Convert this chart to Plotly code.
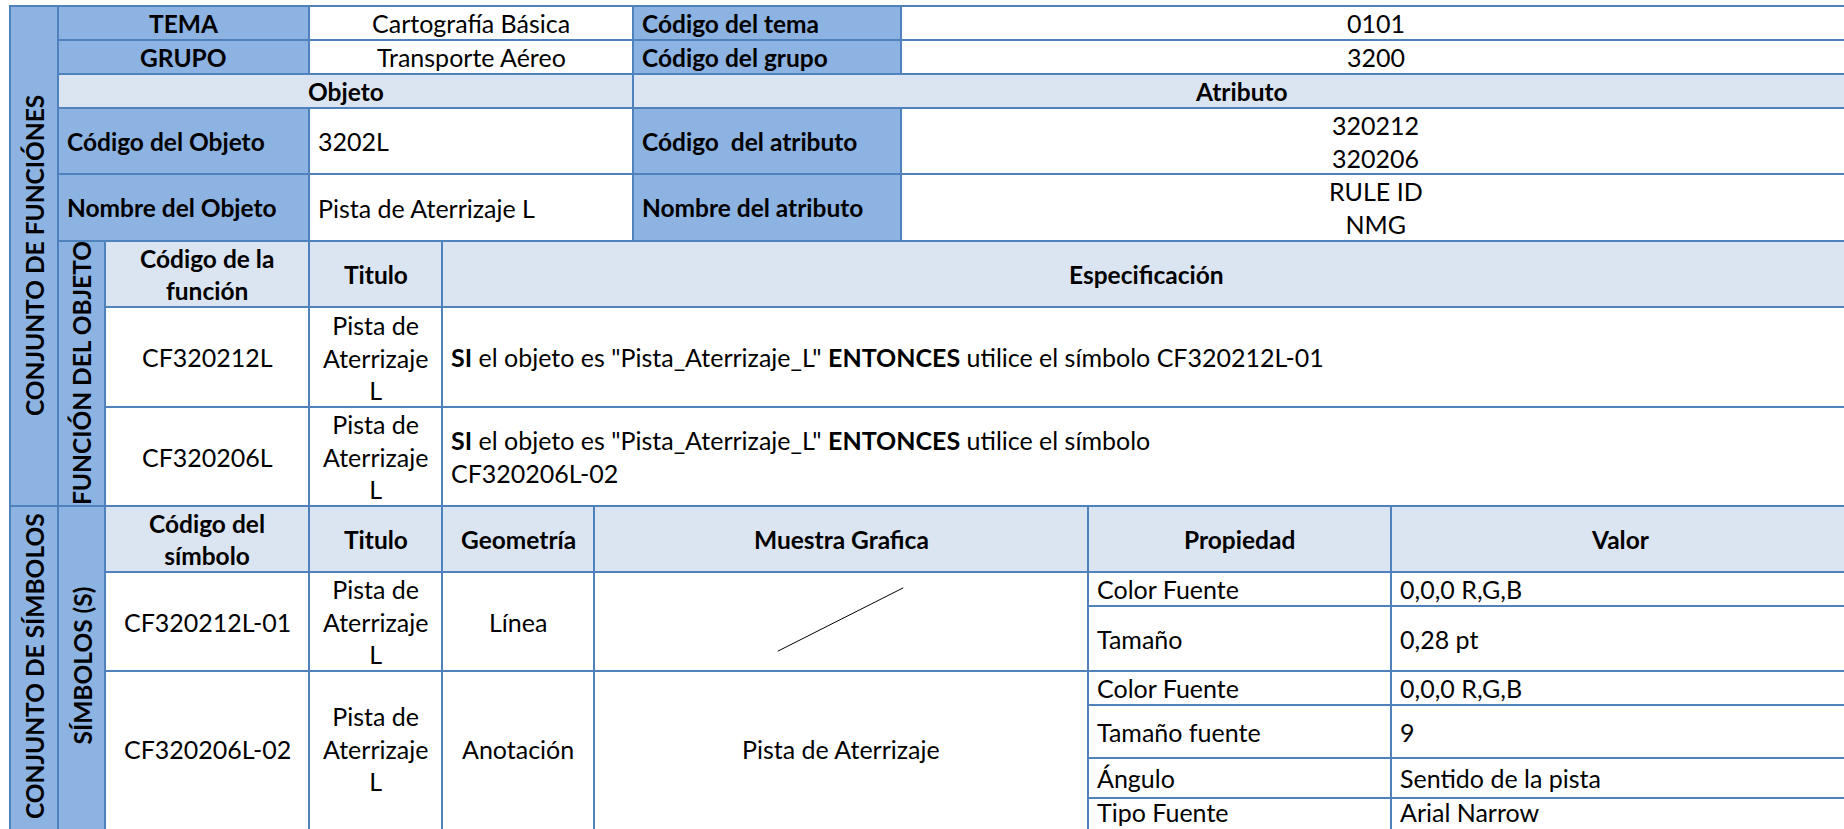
import plotly.graph_objects as go

# ---------------- content ----------------
side_titles = ["CONJUNTO DE FUNCIÓNES", "CONJUNTO DE SÍMBOLOS"]
sub_titles = ["FUNCIÓN DEL OBJETO", "SÍMBOLOS (S)"]

header_labels = ["TEMA", "GRUPO"]
header_values = ["Cartografía Básica", "Transporte Aéreo"]
code_labels = ["Código del tema", "Código del grupo"]
code_values = ["0101", "3200"]

section_titles = ["Objeto", "Atributo"]
object_labels = ["Código del Objeto", "Nombre del Objeto"]
object_values = ["3202L", "Pista de Aterrizaje L"]
attribute_labels = ["Código  del atributo", "Nombre del atributo"]
attribute_values = [["320212", "320206"], ["RULE ID", "NMG"]]

function_headers = ["Código de la<br>función", "Titulo", "Especificación"]
function_codes = ["CF320212L", "CF320206L"]
function_titles = ["Pista de<br>Aterrizaje<br>L", "Pista de<br>Aterrizaje<br>L"]
function_specs = [
    "<b>SI</b> el objeto es \"Pista_Aterrizaje_L\" <b>ENTONCES</b> utilice el símbolo CF320212L-01",
    "<b>SI</b> el objeto es \"Pista_Aterrizaje_L\" <b>ENTONCES</b> utilice el símbolo<br>CF320206L-02",
]

symbol_headers = ["Código del<br>símbolo", "Titulo", "Geometría", "Muestra Grafica", "Propiedad", "Valor"]
symbol_codes = ["CF320212L-01", "CF320206L-02"]
symbol_titles = ["Pista de<br>Aterrizaje<br>L", "Pista de<br>Aterrizaje<br>L"]
symbol_geometries = ["Línea", "Anotación"]
symbol_samples = ["", "Pista de Aterrizaje"]
symbol_properties = [["Color Fuente", "Tamaño"],
                     ["Color Fuente", "Tamaño fuente", "Ángulo", "Tipo Fuente"]]
symbol_values = [["0,0,0 R,G,B", "0,28 pt"],
                 ["0,0,0 R,G,B", "9", "Sentido de la pista", "Arial Narrow"]]

# ---------------- layout geometry (pixels) ----------------
W, H = 1844, 829
XL = [10, 58, 105, 309, 442, 594, 633, 901, 1088, 1391, 1850]
ROW_Y = [6, 40, 74, 108, 174, 241, 307, 407, 506, 572, 671, 840]
PROP_Y = [[572, 606, 671], [671, 705, 758, 798, 840]]
TEXT_BOTTOM = 826          # visible bottom used to centre text of cut-off cells
LINE_FRAC = ([0.372, 0.626], [0.80, 0.16])

DARK = "#8DB3E2"
LIGHT = "#DBE5F1"
WHITE = "#FFFFFF"
BORDER = "#4F81BD"
FONT = "Lato"
FS = 25
FS_BOLD = 24.5
PAD = 8

fig = go.Figure()
shapes = []
annotations = []


def cell(x0, x1, y0, y1, fill, text="", align="center", bold=False, angle=0):
    shapes.append(dict(type="rect", xref="x", yref="y", x0=x0, x1=x1, y0=y0, y1=y1,
                       fillcolor=fill, line=dict(color=BORDER, width=2), layer="below"))
    if text:
        t = f"<b>{text}</b>" if bold else text
        if align == "left":
            x, xa = x0 + PAD, "left"
        else:
            x, xa = (x0 + x1) / 2, "center"
        yc = (y0 + min(y1, TEXT_BOTTOM)) / 2
        annotations.append(dict(x=x, y=yc, xref="x", yref="y", text=t,
                                showarrow=False, xanchor=xa, yanchor="middle",
                                align=align, textangle=angle, borderpad=0,
                                font=dict(family=FONT, size=FS_BOLD if bold else FS,
                                          color="black")))


X = XL
Y = ROW_Y
# side columns
cell(X[0], X[1], Y[0], Y[8], DARK, side_titles[0], bold=True, angle=-90)
cell(X[0], X[1], Y[8], Y[11], DARK, side_titles[1], bold=True, angle=-90)
cell(X[1], X[2], Y[5], Y[8], DARK, sub_titles[0], bold=True, angle=-90)
cell(X[1], X[2], Y[8], Y[11], DARK, sub_titles[1], bold=True, angle=-90)

# TEMA / GRUPO rows
for i in range(2):
    cell(X[1], X[3], Y[i], Y[i + 1], DARK, header_labels[i], bold=True)
    cell(X[3], X[6], Y[i], Y[i + 1], WHITE, header_values[i])
    cell(X[6], X[7], Y[i], Y[i + 1], DARK, code_labels[i], align="left", bold=True)
    cell(X[7], X[10], Y[i], Y[i + 1], WHITE, code_values[i])

# Objeto / Atributo
cell(X[1], X[6], Y[2], Y[3], LIGHT, section_titles[0], bold=True)
cell(X[6], X[10], Y[2], Y[3], LIGHT, section_titles[1], bold=True)
for i in range(2):
    r0, r1 = Y[3 + i], Y[4 + i]
    cell(X[1], X[3], r0, r1, DARK, object_labels[i], align="left", bold=True)
    cell(X[3], X[6], r0, r1, WHITE, object_values[i], align="left")
    cell(X[6], X[7], r0, r1, DARK, attribute_labels[i], align="left", bold=True)
    cell(X[7], X[10], r0, r1, WHITE, "<br>".join(attribute_values[i]))

# Function section
fcols = [X[2], X[3], X[4], X[10]]
for j, h in enumerate(function_headers):
    cell(fcols[j], fcols[j + 1], Y[5], Y[6], LIGHT, h, bold=True)
for i in range(2):
    r0, r1 = Y[6 + i], Y[7 + i]
    cell(fcols[0], fcols[1], r0, r1, WHITE, function_codes[i])
    cell(fcols[1], fcols[2], r0, r1, WHITE, function_titles[i])
    cell(fcols[2], fcols[3], r0, r1, WHITE, function_specs[i], align="left")

# Symbol section
scols = [X[2], X[3], X[4], X[5], X[8], X[9], X[10]]
for j, h in enumerate(symbol_headers):
    cell(scols[j], scols[j + 1], Y[8], Y[9], LIGHT, h, bold=True)
for i in range(2):
    r0, r1 = Y[9 + i], Y[10 + i]
    cell(scols[0], scols[1], r0, r1, WHITE, symbol_codes[i])
    cell(scols[1], scols[2], r0, r1, WHITE, symbol_titles[i])
    cell(scols[2], scols[3], r0, r1, WHITE, symbol_geometries[i])
    cell(scols[3], scols[4], r0, r1, WHITE, symbol_samples[i])
    py = PROP_Y[i]
    for k, (p, v) in enumerate(zip(symbol_properties[i], symbol_values[i])):
        cell(scols[4], scols[5], py[k], py[k + 1], WHITE, p, align="left")
        cell(scols[5], scols[6], py[k], py[k + 1], WHITE, v, align="left")

# graphic sample line in "Muestra Grafica" of first symbol
mx0, mx1 = scols[3], scols[4]
my0, my1 = Y[9], Y[10]
fig.add_trace(go.Scatter(
    x=[mx0 + f * (mx1 - mx0) for f in LINE_FRAC[0]],
    y=[my0 + f * (my1 - my0) for f in LINE_FRAC[1]],
    mode="lines", line=dict(color="black", width=1), hoverinfo="skip", showlegend=False))

fig.update_layout(
    width=W, height=H, autosize=False,
    margin=dict(l=0, r=0, t=0, b=0, pad=0),
    paper_bgcolor="white", plot_bgcolor="white",
    xaxis=dict(range=[0, W], visible=False, fixedrange=True),
    yaxis=dict(range=[H, 0], visible=False, fixedrange=True),
    shapes=shapes, annotations=annotations, showlegend=False,
)

fig.write_html("out.html", config={"displayModeBar": False},
               post_script="document.body.style.margin='0';document.body.style.overflow='hidden';")
